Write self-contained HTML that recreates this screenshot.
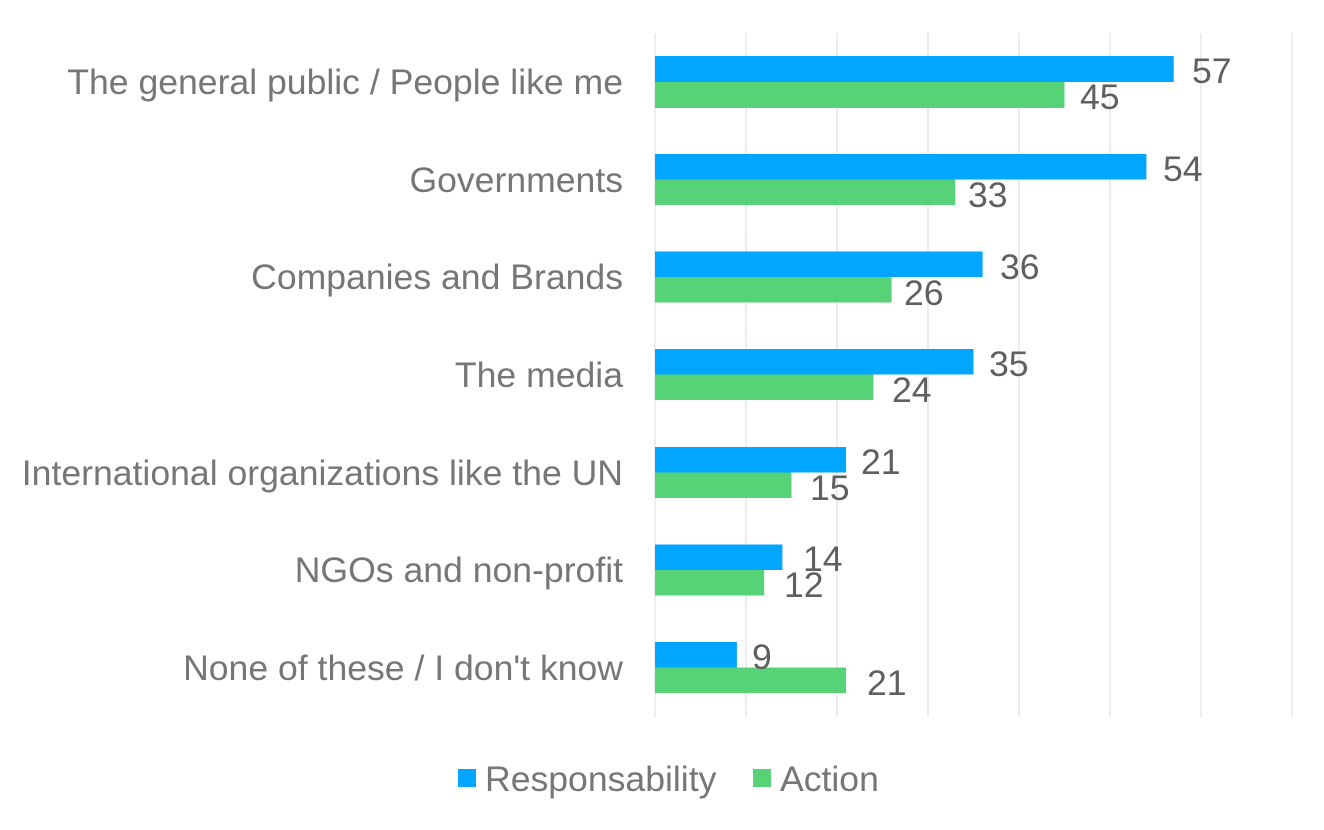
<!DOCTYPE html>
<html><head><meta charset="utf-8"><style>html,body{margin:0;padding:0;background:#fff}</style></head>
<body>
<svg width="1324" height="825" viewBox="0 0 1324 825" xmlns="http://www.w3.org/2000/svg" font-family="Liberation Sans, Arial, sans-serif">
<g stroke="#e3e3e3" stroke-width="1.3">
<line x1="655" y1="33" x2="655" y2="717"/>
<line x1="746" y1="33" x2="746" y2="717"/>
<line x1="837" y1="33" x2="837" y2="717"/>
<line x1="928" y1="33" x2="928" y2="717"/>
<line x1="1019" y1="33" x2="1019" y2="717"/>
<line x1="1110" y1="33" x2="1110" y2="717"/>
<line x1="1201" y1="33" x2="1201" y2="717"/>
<line x1="1292" y1="33" x2="1292" y2="717"/>
</g>
<g font-size="35.6" fill="#767676" text-anchor="end">
<text x="623" y="94">The general public / People like me</text>
<text x="623" y="192">Governments</text>
<text x="623" y="289">Companies and Brands</text>
<text x="623" y="387">The media</text>
<text x="623" y="485">International organizations like the UN</text>
<text x="623" y="582">NGOs and non-profit</text>
<text x="623" y="680">None of these / I don't know</text>
</g>
<g font-size="35.6" fill="#5f5f5f">
<rect x="655" y="56" width="518.7" height="26" fill="#00a6ff"/><rect x="655" y="82" width="409.5" height="26" fill="#55d376"/>
<text x="1192" y="83">57</text><text x="1080" y="109">45</text>
<rect x="655" y="154" width="491.4" height="25.5" fill="#00a6ff"/><rect x="655" y="179.5" width="300.3" height="25.5" fill="#55d376"/>
<text x="1163" y="181">54</text><text x="968" y="207">33</text>
<rect x="655" y="251.5" width="327.6" height="25.5" fill="#00a6ff"/><rect x="655" y="277" width="236.6" height="25.5" fill="#55d376"/>
<text x="1000" y="279">36</text><text x="904" y="305">26</text>
<rect x="655" y="349" width="318.5" height="25.5" fill="#00a6ff"/><rect x="655" y="374.5" width="218.4" height="25.5" fill="#55d376"/>
<text x="989" y="376">35</text><text x="892" y="402">24</text>
<rect x="655" y="447" width="191.1" height="25.5" fill="#00a6ff"/><rect x="655" y="472.5" width="136.5" height="25.5" fill="#55d376"/>
<text x="861" y="474">21</text><text x="810" y="500">15</text>
<rect x="655" y="544.5" width="127.4" height="25.5" fill="#00a6ff"/><rect x="655" y="570" width="109.2" height="25.5" fill="#55d376"/>
<text x="803" y="571">14</text><text x="784" y="597">12</text>
<rect x="655" y="642" width="81.9" height="25.5" fill="#00a6ff"/><rect x="655" y="667.5" width="191.1" height="25.5" fill="#55d376"/>
<text x="752" y="669">9</text><text x="867" y="695">21</text>
</g>
<rect x="458" y="769" width="18" height="18" fill="#00a6ff"/>
<text x="485" y="791" font-size="35.6" fill="#767676">Responsability</text>
<rect x="753" y="769" width="18" height="18" fill="#55d376"/>
<text x="780" y="791" font-size="35.6" fill="#767676">Action</text>
</svg>
</body></html>
